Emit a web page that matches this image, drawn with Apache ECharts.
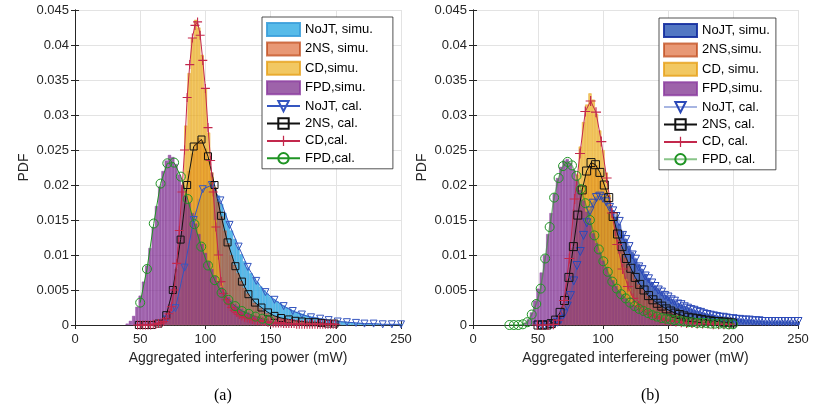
<!DOCTYPE html>
<html lang="en">
<head>
    <meta charset="utf-8">
    <script src="https://cdn.jsdelivr.net/npm/echarts@6/dist/echarts.min.js"></script>
</head>
<body style="margin:0; background:#fff;">
<div id="chart" style="width:817px; height:408px;"></div>
<script type="text/javascript">

var binW = 2.5; // histogram bin width (mW)

// ---------- (a) ----------
var noJtSimA0 = 62.5;
var noJtSimA = [.0001,.0002,.0003,.0006,.0010,.0015,.0025,.0040,.0063,.0092,.0118,.0142,.0163,.0180,.0193,.0200,.0204,.0202,.0195,.0185,.0173,.0160,.0147,.0135,.0123,.0112,.0101,.0091,.0082,.0074,.0067,.0061,.0055,.0050,.0045,.0041,.0037,.0034,.0031,.0028,.0025,.0023,.0021,.0019,.0017,.0016,.0014,.0013,.0012,.0011,.0010,.0009,.0008,.0008,.0007,.0006,.0006,.0005,.0005,.0004,.0004,.0003,.0003,.0003,.0002,.0002,.0002,.0002,.0002,.0001,.0001,.0001,.0001,.0001,.0001,.0001];
var twoNsSimA0 = 60;
var twoNsSimA = [0,.0001,.0003,.0007,.0015,.0030,.0052,.0080,.0112,.0150,.0188,.0220,.0245,.0260,.0267,.0264,.0252,.0236,.0218,.0197,.0176,.0155,.0135,.0117,.0100,.0086,.0074,.0063,.0053,.0045,.0038,.0032,.0028,.0024,.0020,.0017,.0015,.0013,.0011,.0010,.0009,.0008,.0007,.0006,.0006,.0005,.0005,.0004,.0004,.0004,.0003,.0003,.0003,.0002,.0002,.0002,.0002];
var cdSimA0 = 62.5;
var cdSimA = [.0001,.0002,.0004,.0008,.0018,.0036,.0070,.0125,.0200,.0285,.0360,.0410,.0436,.0425,.0386,.0338,.0275,.0212,.0150,.0100,.0060,.0042,.0032,.0026,.0021,.0017,.0014,.0012,.0010,.0009,.0008,.0007,.0006,.0005,.0005,.0004,.0004,.0003,.0003,.0003,.0002,.0002,.0002,.0002,.0001,.0001,.0001,.0001,.0001,.0001,.0001,.0001,.0001,.0001,.0001,.0001];
var fpdSimA0 = 40;
var fpdSimA = [.0002,.0006,.0013,.0026,.0042,.0062,.0085,.0110,.0140,.0170,.0198,.0220,.0235,.0243,.0240,.0230,.0215,.0200,.0185,.0175,.0160,.0145,.0130,.0116,.0103,.0091,.0080,.0070,.0062,.0054,.0047,.0040,.0035,.0030,.0027,.0023,.0020,.0018,.0015,.0013,.0011,.0010,.0008,.0007,.0006,.0005,.0004,.0003,.0003,.0002,.0002,.0001,.0001];

var noJtCalAx = [70,77,84,91,98,105,111.5,118.5,125.5,132.5,139,146,153,160,167,174,181,188,194.5,201.5,208.5,215.5,222,229,236,243,250];
var noJtCalA = [.0008,.0024,.0082,.0150,.0194,.0200,.0178,.0143,.0112,.0083,.0063,.0047,.0036,.0027,.0020,.0015,.0011,.0009,.0007,.0005,.0004,.0003,.0002,.0002,.0001,.0001,.0001];
var twoNsCalAx = [49,54,59,64,70,75,81,86,91,97,102,107,112,117,123,128,133,138,143,148,153,158,164,169,174,179,184,189,194,199];
var twoNsCalA = [0,0,0,.0002,.0014,.0050,.0122,.0200,.0255,.0265,.0241,.0200,.0156,.0118,.0084,.0062,.0044,.0032,.0025,.0018,.0013,.0010,.0008,.0006,.0005,.0004,.0004,.0003,.0002,.0002];
var cdCalAx0 = 48, cdCalAdx = 2;
var cdCalA = [0,0,0,0,0,0,.0001,.0001,.0002,.0003,.0005,.0009,.0016,.0026,.0050,.0088,.0135,.0190,.0250,.0325,.0372,.0410,.0428,.0433,.0414,.0378,.0338,.0282,.0235,.0190,.0140,.0100,.0062,.0045,.0036,.0030,.0025,.0021,.0018,.0015,.0013,.0011,.0010,.0009,.0008,.0007,.0006,.0006,.0005,.0005,.0004,.0004,.0003,.0003,.0003,.0003,.0002,.0002,.0002,.0002,.0002,.0001,.0001,.0001,.0001,.0001,.0001,.0001,.0001,.0001,.0001,.0001,.0001,.0001,.0001,.0001,.0001];
var fpdCalAx0 = 50, fpdCalAdx = 5.2;
var fpdCalA = [.0032,.0080,.0145,.0202,.0231,.0232,.0212,.0180,.0144,.0112,.0085,.0064,.0046,.0036,.0027,.0020,.0016,.0012,.0009,.0007];

// ---------- (b) ----------
var noJtSimB0 = 57.5;
var noJtSimB = [.0001,.0002,.0003,.0006,.0011,.0019,.0031,.0048,.0068,.0090,.0112,.0132,.0150,.0165,.0176,.0184,.0186,.0184,.0179,.0172,.0164,.0154,.0144,.0133,.0123,.0113,.0104,.0095,.0087,.0080,.0073,.0067,.0061,.0056,.0051,.0047,.0043,.0040,.0037,.0034,.0031,.0029,.0027,.0025,.0023,.0021,.0020,.0018,.0017,.0016,.0015,.0014,.0013,.0012,.0011,.0011,.0010,.0009,.0009,.0008,.0008,.0007,.0007,.0007,.0006,.0006,.0006,.0005,.0005,.0005,.0005,.0005,.0005,.0005,.0005,.0004,.0004,.0004];
var twoNsSimB0 = 57.5;
var twoNsSimB = [.0001,.0002,.0005,.0010,.0020,.0032,.0052,.0082,.0118,.0150,.0178,.0200,.0218,.0228,.0232,.0228,.0218,.0205,.0190,.0172,.0155,.0138,.0122,.0108,.0096,.0085,.0075,.0066,.0058,.0052,.0046,.0041,.0036,.0032,.0029,.0026,.0023,.0020,.0018,.0016,.0015,.0013,.0012,.0011,.0010,.0009,.0008,.0008,.0007,.0006,.0006,.0005,.0005,.0004,.0004,.0004,.0003,.0003];
var cdSimB0 = 62.5;
var cdSimB = [.0001,.0003,.0010,.0030,.0065,.0110,.0165,.0215,.0255,.0290,.0315,.0331,.0322,.0302,.0278,.0250,.0218,.0186,.0155,.0127,.0102,.0082,.0066,.0052,.0042,.0034,.0028,.0023,.0019,.0016,.0014,.0012,.0010,.0009,.0008,.0007,.0006,.0005,.0005,.0004,.0004,.0003,.0003,.0003,.0002,.0002,.0002,.0002,.0002,.0001,.0001,.0001,.0001,.0001,.0001,.0001];
var fpdSimB0 = 40;
var fpdSimB = [.0003,.0008,.0018,.0035,.0052,.0075,.0100,.0130,.0160,.0188,.0210,.0226,.0235,.0237,.0232,.0222,.0208,.0193,.0178,.0162,.0146,.0131,.0117,.0104,.0092,.0082,.0072,.0064,.0056,.0049,.0043,.0038,.0033,.0029,.0026,.0023,.0020,.0018,.0016,.0014,.0012,.0011,.0010,.0009,.0008,.0007,.0006,.0006,.0005,.0005,.0004,.0004,.0003,.0003,.0003,.0002,.0002,.0002,.0002,.0002,.0001,.0001,.0001,.0001,.0001];

var noJtCalBx0 = 50, noJtCalBdx = 2.5;
var noJtCalB = [0,0,0,0,.0001,.0002,.0004,.0008,.0016,.0027,.0042,.0063,.0085,.0105,.0128,.0146,.0163,.0174,.0182,.0184,.0181,.0176,.0168,.0163,.0155,.0148,.0128,.0122,.0112,.0100,.0094,.0083,.0079,.0070,.0066,.0060,.0055,.0050,.0047,.0042,.0040,.0036,.0034,.0030,.0029,.0026,.0024,.0022,.0021,.0019,.0018,.0016,.0015,.0014,.0013,.0012,.0011,.0011,.0010,.0009,.0009,.0008,.0008,.0007,.0007,.0007,.0006,.0006,.0006,.0005,.0005,.0005,.0005,.0005,.0005,.0005,.0005,.0005,.0005,.0005,.0005];
var twoNsCalBx0 = 50, twoNsCalBdx = 3.4;
var twoNsCalB = [0,0,0,.0002,.0007,.0018,.0035,.0068,.0112,.0157,.0193,.0220,.0232,.0229,.0218,.0200,.0182,.0155,.0130,.0112,.0095,.0081,.0068,.0058,.0050,.0042,.0036,.0031,.0027,.0023,.0020,.0017,.0015,.0013,.0011,.0010,.0009,.0008,.0007,.0006,.0005,.0005,.0004,.0004,.0003];
var cdCalBx0 = 49.5, cdCalBdx = 4.1;
var cdCalB = [0,0,0,.0001,.0007,.0035,.0095,.0180,.0245,.0305,.0320,.0304,.0262,.0210,.0160,.0115,.0080,.0055,.0038,.0027,.0020,.0015,.0012,.0009,.0007,.0006,.0005,.0004,.0003,.0003,.0002,.0002,.0002,.0001,.0001,.0001,.0001];
var fpdCalBx0 = 28, fpdCalBdx = 3.44;
var fpdCalB = [0,0,0,.0001,.0004,.0015,.0030,.0052,.0095,.0140,.0182,.0210,.0227,.0233,.0228,.0213,.0194,.0174,.0150,.0128,.0108,.0091,.0076,.0062,.0052,.0044,.0038,.0032,.0027,.0023,.0020,.0017,.0014,.0012,.0010,.0009,.0008,.0007,.0006,.0005,.0004,.0004,.0003,.0003,.0003,.0002,.0002,.0002,.0002,.0001,.0001];

var FONT = 'Liberation Sans, Arial, Helvetica, sans-serif';
var AX = '#262626';
var CROSS = 'path://M4.4,0H5.6V4.4H10V5.6H5.6V10H4.4V5.6H0V4.4H4.4Z';

function bins(start, vals) {
    var out = [];
    for (var i = 0; i < vals.length; i++) out.push([start + i * binW, vals[i]]);
    return out;
}
function even(x0, dx, vals) {
    var out = [];
    for (var i = 0; i < vals.length; i++) out.push([x0 + i * dx, vals[i]]);
    return out;
}
function pairs(xs, vals) {
    return vals.map(function (v, i) { return [xs[i], v]; });
}

function histSeries(name, g, data, fill, edge) {
    return {
        name: name, type: 'bar', xAxisIndex: g, yAxisIndex: g,
        data: data, barWidth: 3.26, barGap: '-100%',
        itemStyle: {color: fill, borderColor: edge, borderWidth: 0.6},
        emphasis: {disabled: true}
    };
}
function calSeries(name, g, data, color, symbol, size, opts) {
    opts = opts || {};
    var hollow = symbol !== CROSS;
    return {
        name: name, type: 'line', xAxisIndex: g, yAxisIndex: g,
        data: data, symbol: symbol, symbolSize: size,
        symbolRotate: opts.rotate || 0, showAllSymbol: true,
        lineStyle: {color: opts.lineColor || color, width: opts.lineWidth || 1},
        itemStyle: hollow ? {color: 'rgba(0,0,0,0)', borderColor: color, borderWidth: 1}
                          : {color: color},
        emphasis: {disabled: true}, z: 5
    };
}

var Z = '\u200b'; // keeps (b) legend names apart from (a)

var namesA = ['NoJT, simu.', '2NS, simu.', 'CD,simu.', 'FPD,simu.', 'NoJT, cal.', '2NS, cal.', 'CD,cal.', 'FPD,cal.'];
var namesB = ['NoJT, simu.' + Z, '2NS,simu.', 'CD, simu.', 'FPD,simu.' + Z, 'NoJT, cal.' + Z, '2NS, cal.' + Z, 'CD, cal.', 'FPD, cal.'];

var series = [
    histSeries(namesA[0], 0, bins(noJtSimA0, noJtSimA), 'rgba(45,170,228,0.8)', 'rgba(60,160,220,0.9)'),
    histSeries(namesA[1], 0, bins(twoNsSimA0, twoNsSimA), 'rgba(217,83,25,0.6)', 'rgba(190,70,20,0.7)'),
    histSeries(namesA[2], 0, bins(cdSimA0, cdSimA), 'rgba(237,177,32,0.7)', 'rgba(230,160,25,0.8)'),
    histSeries(namesA[3], 0, bins(fpdSimA0, fpdSimA), 'rgba(126,47,142,0.75)', 'rgba(140,60,160,0.8)'),
    calSeries(namesA[4], 0, pairs(noJtCalAx, noJtCalA), '#3556c0', 'triangle', 7, {rotate: 180}),
    calSeries(namesA[5], 0, pairs(twoNsCalAx, twoNsCalA), '#111111', 'rect', 7),
    calSeries(namesA[6], 0, even(cdCalAx0, cdCalAdx, cdCalA), '#c3284c', CROSS, 9),
    calSeries(namesA[7], 0, even(fpdCalAx0, fpdCalAdx, fpdCalA), '#1f9424', 'circle', 9),

    histSeries(namesB[0], 1, bins(noJtSimB0, noJtSimB), 'rgba(40,85,180,0.8)', 'rgba(20,45,160,0.9)'),
    histSeries(namesB[1], 1, bins(twoNsSimB0, twoNsSimB), 'rgba(217,83,25,0.6)', 'rgba(190,70,20,0.7)'),
    histSeries(namesB[2], 1, bins(cdSimB0, cdSimB), 'rgba(237,177,32,0.7)', 'rgba(230,160,25,0.8)'),
    histSeries(namesB[3], 1, bins(fpdSimB0, fpdSimB), 'rgba(126,47,142,0.75)', 'rgba(140,60,160,0.8)'),
    calSeries(namesB[4], 1, even(noJtCalBx0, noJtCalBdx, noJtCalB), '#2a48b8', 'triangle', 8,
        {rotate: 180, lineColor: 'rgba(60,90,190,0.45)', lineWidth: 2}),
    calSeries(namesB[5], 1, even(twoNsCalBx0, twoNsCalBdx, twoNsCalB), '#111111', 'rect', 8),
    calSeries(namesB[6], 1, even(cdCalBx0, cdCalBdx, cdCalB), '#c3284c', CROSS, 10),
    calSeries(namesB[7], 1, even(fpdCalBx0, fpdCalBdx, fpdCalB), '#1f9424', 'circle', 9,
        {lineColor: 'rgba(40,150,40,0.55)', lineWidth: 1.5})
];

function legendData(names) {
    return names.map(function (n, i) { return i < 4 ? {name: n, icon: 'rect'} : {name: n}; });
}
function legend(names, left, top, padRight) {
    return {
        data: legendData(names), orient: 'vertical', left: left, top: top,
        itemWidth: 33, itemHeight: 13, itemGap: 4.4,
        padding: [5, padRight, 4, 4],
        backgroundColor: '#fff', borderColor: AX, borderWidth: 0.8, borderRadius: 0,
        textStyle: {fontFamily: FONT, fontSize: 13, color: '#000'},
        selectedMode: false
    };
}

function xAx(g, title) {
    return {
        gridIndex: g, type: 'value', min: 0, max: 250, interval: 50,
        name: title, nameLocation: 'middle', nameGap: 26,
        nameTextStyle: {fontFamily: FONT, fontSize: 14, color: AX},
        axisLine: {lineStyle: {color: AX, width: 1}},
        axisTick: {inside: true, length: 4, lineStyle: {color: AX}},
        axisLabel: {fontFamily: FONT, fontSize: 13, color: AX, margin: 8},
        splitLine: {show: true, lineStyle: {color: '#e3e3e3'}}
    };
}
function yAx(g) {
    return {
        gridIndex: g, type: 'value', min: 0, max: 0.045, interval: 0.005,
        name: 'PDF', nameLocation: 'middle', nameGap: 44,
        nameTextStyle: {fontFamily: FONT, fontSize: 14, color: AX},
        axisLine: {show: true, lineStyle: {color: AX, width: 1}},
        axisTick: {show: true, inside: true, length: 4, lineStyle: {color: AX}},
        axisLabel: {fontFamily: FONT, fontSize: 13, color: AX, margin: 6},
        splitLine: {show: true, lineStyle: {color: '#e3e3e3'}}
    };
}
function xTop(g) {
    return {
        gridIndex: g, type: 'value', min: 0, max: 250, interval: 50, position: 'top',
        axisLine: {lineStyle: {color: AX, width: 1}},
        axisTick: {inside: true, length: 4, lineStyle: {color: AX}},
        axisLabel: {show: false}, splitLine: {show: false}
    };
}
function yRight(g) {
    return {
        gridIndex: g, type: 'value', min: 0, max: 0.045, interval: 0.005, position: 'right',
        axisLine: {show: true, lineStyle: {color: AX, width: 1}},
        axisTick: {show: true, inside: true, length: 4, lineStyle: {color: AX}},
        axisLabel: {show: false}, splitLine: {show: false}
    };
}

var option = {
    backgroundColor: '#fff',
    animation: false,
    grid: [
        {left: 75, right: 416, top: 10, bottom: 83},
        {left: 473, right: 19, top: 10, bottom: 83}
    ],
    xAxis: [xAx(0, 'Aggregated interfering power (mW)'), xAx(1, 'Aggregated interfereing power (mW)'), xTop(0), xTop(1)],
    yAxis: [yAx(0), yAx(1), yRight(0), yRight(1)],
    legend: [legend(namesA, 262, 17, 20), legend(namesB, 659, 18, 6)],
    graphic: [
        {type: 'text', left: 214, top: 388, style: {text: '(a)', font: '16px "Liberation Serif", "Times New Roman", serif', fill: '#000'}},
        {type: 'text', left: 641, top: 388, style: {text: '(b)', font: '16px "Liberation Serif", "Times New Roman", serif', fill: '#000'}}
    ],
    series: series
};

var myChart = echarts.init(document.getElementById('chart'));
myChart.setOption(option);

</script>
</body>
</html>
